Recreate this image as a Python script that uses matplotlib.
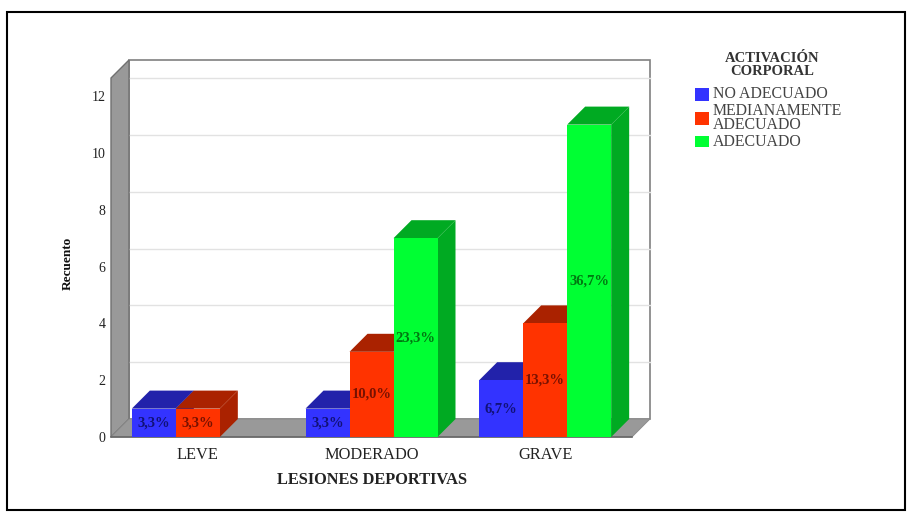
import matplotlib
matplotlib.use("Agg")
import matplotlib.pyplot as plt
from matplotlib.patches import Polygon, Rectangle

categories = ["LEVE", "MODERADO", "GRAVE"]
series_names = ["NO ADECUADO", "MEDIANAMENTE\nADECUADO", "ADECUADO"]
no_adecuado = [1, 1, 2]
medianamente = [1, 3, 4]
adecuado = [0, 7, 11]
pct_no_adecuado = ["3,3%", "3,3%", "6,7%"]
pct_medianamente = ["3,3%", "10,0%", "13,3%"]
pct_adecuado = ["", "23,3%", "36,7%"]
y_ticks = [0, 2, 4, 6, 8, 10, 12]

front = ["#3333ff", "#ff3300", "#00ff33"]
shade = ["#2222aa", "#aa2200", "#00aa22"]
text_col = ["#111177", "#771100", "#007711"]

W, H = 913, 522
plt.rcParams["font.family"] = ["Liberation Serif", "DejaVu Serif"]
fig = plt.figure(figsize=(W / 100, H / 100), dpi=100, facecolor="white")

# front plane of the 3D box, the depth is faked with offset polygons
left, right, bottom, top = 111, 632, 437, 78
ax = fig.add_axes([left / W, 1 - bottom / H, (right - left) / W, (bottom - top) / H])
ymax = (bottom - top) / 28.4
ax.set_xlim(-0.5, 2.5)
ax.set_ylim(0, ymax)
ax.patch.set_visible(False)
for s in ax.spines.values():
    s.set_visible(False)

dx = 18 / ((right - left) / 3)
dy = 18 / 28.4
x0, x1 = -0.5, 2.5


def poly(pts, color, z, edge="none", lw=0):
    ax.add_patch(Polygon(pts, closed=True, facecolor=color, edgecolor=edge,
                         linewidth=lw, zorder=z, clip_on=False))


# back wall, side wall, floor
poly([(x0 + dx, dy), (x1 + dx, dy), (x1 + dx, ymax + dy), (x0 + dx, ymax + dy)],
     "white", 1, "#808080", 1.2)
for t in y_ticks[1:]:
    ax.plot([x0 + dx, x1 + dx], [t + dy, t + dy], color="#e2e2e2", lw=1, zorder=2,
            clip_on=False)
poly([(x0, 0), (x0 + dx, dy), (x0 + dx, ymax + dy), (x0, ymax)], "#999999", 3, "#707070", 1)
poly([(x0, 0), (x1, 0), (x1 + dx, dy), (x0 + dx, dy)], "#999999", 3, "#8a8a8a", 0.6)
ax.plot([x0, x1], [0, 0], color="#666666", lw=1.2, zorder=3, clip_on=False)

# bars, drawn left to right so each one covers the side of the previous
bar_w = 44 / ((right - left) / 3)
all_values = [no_adecuado, medianamente, adecuado]
all_pct = [pct_no_adecuado, pct_medianamente, pct_adecuado]
z = 4
for c in range(len(categories)):
    for k in range(3):
        v = all_values[k][c]
        if v == 0:
            continue
        a = c + (k - 1.5) * bar_w
        b = a + bar_w
        poly([(b, 0), (b + dx, dy), (b + dx, v + dy), (b, v)], shade[k], z)
        poly([(a, v), (b, v), (b + dx, v + dy), (a + dx, v + dy)], shade[k], z)
        ax.bar(a, v, width=bar_w, align="edge", color=front[k], zorder=z + 0.1)
        ax.text((a + b) / 2, v / 2, all_pct[k][c], ha="center", va="center", fontsize=10.5,
                fontweight="bold", color=text_col[k], zorder=50)
        z += 1

ax.set_xticks(range(len(categories)))
ax.set_xticklabels(categories, fontsize=11.8, color="#222222")
ax.set_yticks(y_ticks)
ax.set_yticklabels([str(t) for t in y_ticks], fontsize=10, color="#222222")
ax.tick_params(axis="both", length=0)
ax.tick_params(axis="x", pad=7)
ax.tick_params(axis="y", pad=4)


def px_text(x, y, s, **kw):
    fig.text(x / W, 1 - y / H, s, **kw)


px_text(372, 480, "LESIONES DEPORTIVAS", ha="center", va="center", fontsize=11.8,
        fontweight="bold", color="#222222")
px_text(68, 263, "Recuento", ha="center", va="center", rotation=90, fontsize=9.5,
        fontweight="bold", color="#111111")

# legend
px_text(772, 65, "ACTIVACIÓN\nCORPORAL", ha="center", va="center", fontsize=10.5,
        fontweight="bold", color="#333333", linespacing=0.95, family="Liberation Serif")
swatch_top = [88, 112, 136]
swatch_h = [13, 13, 11]
label_y = [94, 118, 142]
for i in range(3):
    fig.add_artist(Rectangle((695 / W, 1 - (swatch_top[i] + swatch_h[i]) / H), 14 / W,
                             swatch_h[i] / H, facecolor=front[i], edgecolor="none",
                             transform=fig.transFigure))
    px_text(713, label_y[i], series_names[i], ha="left", va="center", fontsize=11.4,
            color="#444444", linespacing=0.85, family="Liberation Serif")

# outer frame
fig.add_artist(Rectangle((7 / W, 1 - 510 / H), 898 / W, 498 / H, fill=False,
                         edgecolor="black", linewidth=1.5, transform=fig.transFigure))

fig.savefig("out.png", dpi=100)
